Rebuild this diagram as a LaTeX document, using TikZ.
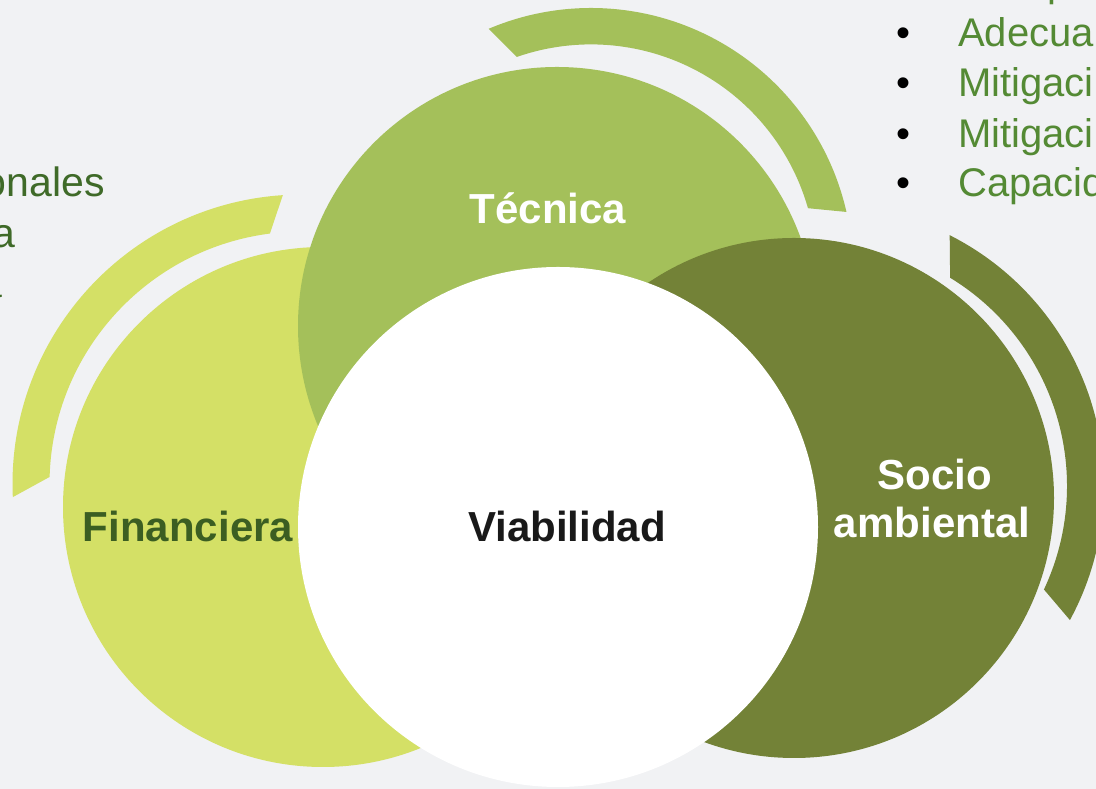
\documentclass[tikz,border=0pt]{standalone}
\usepackage{fontspec}
\setmainfont{Liberation Sans}
\definecolor{bgc}{HTML}{F1F2F4}
\definecolor{finc}{HTML}{D4E066}
\definecolor{tecc}{HTML}{A4C05A}
\definecolor{socc}{HTML}{738237}
\definecolor{fintext}{HTML}{3B5E22}
\definecolor{lefttext}{HTML}{3F6A28}
\definecolor{righttext}{HTML}{548A34}
\begin{document}
\begin{tikzpicture}[x=1pt,y=1pt,
  disc/.style={circle,inner sep=0pt,minimum size=#1},
  lab/.style={font=\fontsize{42}{50}\selectfont\bfseries,anchor=base,inner sep=0pt},
  sidetext/.style={font=\fontsize{41}{48}\selectfont,text=lefttext,anchor=base east,inner sep=0pt},
  listtext/.style={font=\fontsize{40}{48}\selectfont,text=righttext,anchor=base west,inner sep=0pt},
  bulletmark/.style={font=\fontsize{40}{48}\selectfont,text=black,anchor=base,inner sep=0pt}]
\fill[bgc] (0,0) rectangle (1096,789);
\useasboundingbox (0,0) rectangle (1096,789);

% rings
\fill[finc] ([shift={(302,305)}]93.8:289.5) arc[start angle=93.8,end angle=182.6,radius=289.5]
  -- ([shift={(302,305)}]178.4:252.5) arc[start angle=178.4,end angle=97.3,radius=252.5] -- cycle;
\fill[tecc] ([shift={(591,519)}]113:262) arc[start angle=113,end angle=12.8,radius=262]
  -- ([shift={(591,519)}]15.9:225.6) arc[start angle=15.9,end angle=109.2,radius=225.6] -- cycle;
\fill[socc] ([shift={(823,303)}]63.2:281) arc[start angle=63.2,end angle=-28.5,radius=281]
  -- ([shift={(823,303)}]-25.1:244) arc[start angle=-25.1,end angle=58.6,radius=244] -- cycle;

% circles
\node[disc=520pt,fill=finc] (fin) at (323,282) {};
\node[disc=518pt,fill=tecc] (tec) at (557,463) {};
\node[disc=520pt,fill=socc] (soc) at (794,291) {};
\node[disc=520pt,fill=white] (via) at (558,262) {};

% labels
\node[lab,text=white] (tecl) at (548,565) {Técnica};
\node[lab,text=fintext] (finl) at (188,247) {Financiera};
\node[lab,text=black!90] (vial) at (567,247) {Viabilidad};
\node[lab,text=white] (socl1) at (935,299) {Socio};
\node[lab,text=white] (socl2) at (932,251) {ambiental};

% left side text fragments
\node[sidetext] (l1) at (105,592) {onales};
\node[sidetext] (l2) at (16,541) {a};
\node[sidetext] (l3) at (3,491) {a};

% right side list
\node[listtext] (r0) at (1047,792) {p};
\node[bulletmark] (b1) at (903,742) {•};
\node[listtext] (r1) at (958,742) {Adecua};
\node[bulletmark] (b2) at (903,692) {•};
\node[listtext] (r2) at (958,692) {Mitigaci};
\node[bulletmark] (b3) at (903,641) {•};
\node[listtext] (r3) at (958,641) {Mitigaci};
\node[bulletmark] (b4) at (903,592) {•};
\node[listtext] (r4) at (958,592) {Capacid};
\end{tikzpicture}
\end{document}
